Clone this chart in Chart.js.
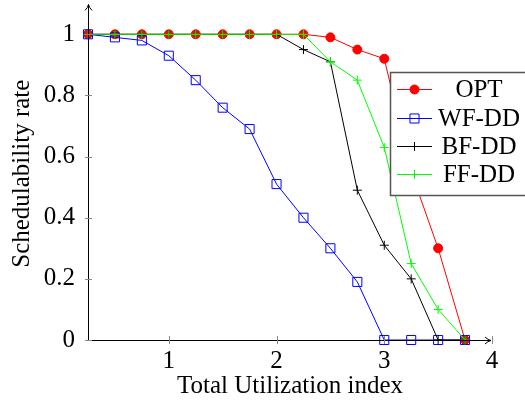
<!DOCTYPE html>
<html>
<head>
<meta charset="utf-8">
<script src="https://cdn.jsdelivr.net/npm/chart.js@4.4.0/dist/chart.umd.min.js"></script>
<style>
  html, body { margin: 0; padding: 0; background: #fff; }
</style>
</head>
<body>
<canvas id="chart" width="525" height="402"></canvas>
<script>
// data
const utilization = [0.25, 0.5, 0.75, 1, 1.25, 1.5, 1.75, 2, 2.25, 2.5, 2.75, 3, 3.25, 3.5, 3.75];
const optRate  = [1, 1, 1, 1, 1, 1, 1, 1, 1, 0.99, 0.95, 0.92, 0.55, 0.30, 0];
const wfddRate = [1, 0.99, 0.98, 0.93, 0.85, 0.76, 0.69, 0.51, 0.40, 0.30, 0.19, 0, 0, 0, 0];
const bfddRate = [1, 1, 1, 1, 1, 1, 1, 1, 0.95, 0.91, 0.49, 0.31, 0.20, 0, 0];
const ffddRate = [1, 1, 1, 1, 1, 1, 1, 1, 1, 0.91, 0.85, 0.63, 0.25, 0.10, 0];

const xTickValues = [1, 2, 3, 4];
const yTickValues = [0, 0.2, 0.4, 0.6, 0.8, 1];

const serif = { family: '"Liberation Serif", "Times New Roman", serif', size: 25 };

function pairs(ys) {
  return utilization.map((u, i) => ({ x: u, y: ys[i] }));
}

// pgfplots-like axes: arrows + tick marks crossing the axis
const axisPlugin = {
  id: 'axisArrows',
  afterDatasetsDraw(chart) {
    const { ctx, chartArea, scales: { x, y } } = chart;
    const y0 = y.getPixelForValue(0);
    const x0 = chartArea.left;
    ctx.save();
    ctx.strokeStyle = '#000';
    ctx.fillStyle = '#000';
    ctx.lineWidth = 1;
    // x axis
    ctx.beginPath();
    ctx.moveTo(x0, y0 + 0.5);
    ctx.lineTo(chartArea.right - 2, y0 + 0.5);
    ctx.stroke();
    // y axis
    ctx.beginPath();
    ctx.moveTo(x0 + 0.5, y0);
    ctx.lineTo(x0 + 0.5, chartArea.top - 2);
    ctx.stroke();
    // arrow heads
    const ax = chartArea.right - 1, ay = y0 + 0.5;
    ctx.beginPath();
    ctx.moveTo(ax - 6, ay - 3.5);
    ctx.quadraticCurveTo(ax - 3, ay - 0.5, ax, ay);
    ctx.quadraticCurveTo(ax - 3, ay + 0.5, ax - 6, ay + 3.5);
    ctx.stroke();
    const bx = x0 + 0.5, by = chartArea.top - 3;
    ctx.beginPath();
    ctx.moveTo(bx - 3.5, by + 6);
    ctx.quadraticCurveTo(bx - 0.5, by + 3, bx, by);
    ctx.quadraticCurveTo(bx + 0.5, by + 3, bx + 3.5, by + 6);
    ctx.stroke();
    // tick marks
    ctx.strokeStyle = '#888';
    xTickValues.forEach(v => {
      const px = Math.round(x.getPixelForValue(v)) + 0.5;
      ctx.beginPath();
      ctx.moveTo(px, y0 - 4);
      ctx.lineTo(px, y0 + 4);
      ctx.stroke();
    });
    yTickValues.forEach(v => {
      const py = Math.round(y.getPixelForValue(v)) + 0.5;
      ctx.beginPath();
      ctx.moveTo(x0 - 3, py);
      ctx.lineTo(x0 + 4, py);
      ctx.stroke();
    });
    ctx.restore();
  },
  afterDraw(chart) {
    // legend box, pgfplots style, partly cut at the right edge
    const { ctx } = chart;
    const box = { left: 390, top: 72, right: 532, bottom: 195 };
    const rows = [89, 118, 146, 174];
    ctx.save();
    ctx.fillStyle = '#fff';
    ctx.fillRect(box.left, box.top, box.right - box.left, box.bottom - box.top);
    ctx.strokeStyle = '#555';
    ctx.lineWidth = 1.5;
    ctx.strokeRect(box.left + 0.5, box.top + 0.5, box.right - box.left, box.bottom - box.top);
    const sets = [...chart.data.datasets].sort((a, b) => b.order - a.order);
    sets.forEach((ds, i) => {
      const cy = rows[i];
      ctx.strokeStyle = ds.borderColor;
      ctx.lineWidth = 1;
      ctx.beginPath();
      ctx.moveTo(397, cy + 0.5);
      ctx.lineTo(432, cy + 0.5);
      ctx.stroke();
      ctx.fillStyle = ds.pointBackgroundColor;
      ctx.strokeStyle = ds.borderColor;
      ctx.lineWidth = ds.pointBorderWidth;
      Chart.helpers.drawPoint(ctx, {
        pointStyle: ds.pointStyle,
        radius: ds.pointRadius,
        rotation: 0,
        borderWidth: ds.pointBorderWidth
      }, 414.5, cy + 0.5);
      ctx.fillStyle = '#000';
      ctx.font = `${serif.size}px ${serif.family}`;
      ctx.textAlign = 'center';
      ctx.textBaseline = 'middle';
      ctx.fillText(ds.label, 479, cy + 1);
    });
    ctx.restore();
  }
};

new Chart(document.getElementById('chart'), {
  type: 'line',
  data: {
    datasets: [
      {
        label: 'OPT', data: pairs(optRate), order: 4,
        borderColor: '#ff0000', pointBackgroundColor: '#ff0000',
        pointStyle: 'circle', pointRadius: 4.5, pointBorderWidth: 1
      },
      {
        label: 'WF-DD', data: pairs(wfddRate), order: 3,
        borderColor: '#0000ff', pointBackgroundColor: 'rgba(0,0,0,0)',
        pointStyle: 'rect', pointRadius: 6.4, pointBorderWidth: 1
      },
      {
        label: 'BF-DD', data: pairs(bfddRate), order: 2,
        borderColor: '#000000', pointBackgroundColor: '#000000',
        pointStyle: 'cross', pointRadius: 4.5, pointBorderWidth: 1
      },
      {
        label: 'FF-DD', data: pairs(ffddRate), order: 1,
        borderColor: '#00ff00', pointBackgroundColor: '#00ff00',
        pointStyle: 'cross', pointRadius: 4.5, pointBorderWidth: 1
      }
    ].map(ds => Object.assign(ds, {
      borderWidth: 1,
      tension: 0,
      fill: false,
      clip: false,
      pointBorderColor: ds.borderColor,
      pointHoverRadius: ds.pointRadius
    }))
  },
  options: {
    responsive: false,
    animation: false,
    events: [],
    layout: { padding: { left: 0, right: 33, top: 0, bottom: 0 } },
    plugins: {
      legend: { display: false },
      tooltip: { enabled: false }
    },
    scales: {
      x: {
        type: 'linear',
        min: 0.25,
        max: 4,
        afterBuildTicks: s => { s.ticks = xTickValues.map(v => ({ value: v })); },
        afterFit: s => { s.height = 62; s.paddingLeft = 0; s.paddingRight = 0; },
        grid: { display: false, drawTicks: false },
        border: { display: false },
        ticks: { color: '#000', font: serif, padding: 6, maxRotation: 0, callback: v => String(v) },
        title: {
          display: true, text: 'Total Utilization index', color: '#000', font: serif,
          padding: { top: 0, bottom: 1 }
        }
      },
      y: {
        type: 'linear',
        min: 0,
        max: 1.088,
        afterBuildTicks: s => { s.ticks = yTickValues.map(v => ({ value: v })); },
        afterFit: s => { s.width = 88; s.paddingTop = 0; s.paddingBottom = 0; },
        grid: { display: false, drawTicks: false },
        border: { display: false },
        ticks: { color: '#000', font: serif, padding: 13, callback: v => String(v) },
        title: {
          display: true, text: 'Schedulability rate', color: '#000', font: serif,
          padding: { top: 7, bottom: 0 }
        }
      }
    }
  },
  plugins: [axisPlugin]
});
</script>
</body>
</html>
